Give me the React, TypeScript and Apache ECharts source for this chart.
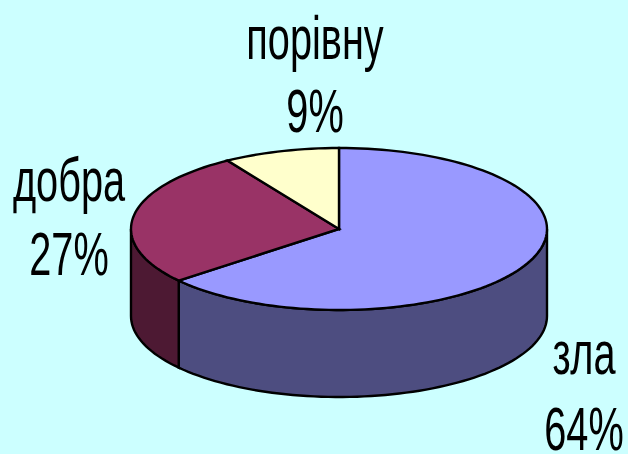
import React, { useEffect, useRef } from "react";
import * as echarts from "echarts";

const categories = ["зла", "добра", "порівну"];
const values = [64, 27, 9];
const topColors = ["#9999FF", "#993366", "#FFFFCC"];
const wallColors = ["#4D4D80", "#4D1933", "#808066"];

const CX = 339, CY = 229, RX = 208, RY = 81, DEPTH = 87;
const labelPos = [
  { x: 584, nameY: 353, pctY: 429 },
  { x: 69, nameY: 180, pctY: 254 },
  { x: 315, nameY: 38, pctY: 111 },
];

const total = values.reduce((a, b) => a + b, 0);
const rad = (d: number) => (d * Math.PI) / 180;
const pt = (deg: number, dy = 0): number[] => [
  CX + RX * Math.sin(rad(deg)),
  CY - RY * Math.cos(rad(deg)) + dy,
];
const arc = (a: number, b: number, dy = 0): number[][] => {
  const n = Math.max(2, Math.ceil(Math.abs(b - a) / 2));
  const out: number[][] = [];
  for (let i = 0; i <= n; i++) out.push(pt(a + ((b - a) * i) / n, dy));
  return out;
};

function renderItem(params: any, api: any) {
  const i = params.dataIndex;
  const before = values.slice(0, i).reduce((a, b) => a + b, 0);
  const a0 = (before / total) * 360;
  const a1 = ((before + api.value(0)) / total) * 360;
  const children: any[] = [];
  const w0 = Math.max(a0, 90), w1 = Math.min(a1, 270);
  if (w1 > w0) {
    children.push({
      type: "polygon",
      shape: { points: [...arc(w0, w1, 0), ...arc(w1, w0, DEPTH)] },
      style: { fill: wallColors[i], stroke: "#000", lineWidth: 2.4 },
    });
  }
  children.push({
    type: "polygon",
    shape: { points: [[CX, CY], ...arc(a0, a1)] },
    style: { fill: topColors[i], stroke: "#000", lineWidth: 2.4 },
  });
  const l = labelPos[i];
  const text = (t: string, y: number) => ({
    type: "text",
    x: l.x,
    y,
    scaleX: 0.64,
    style: {
      text: t,
      fill: "#000",
      font: '62px "Liberation Sans"',
      align: "center",
      verticalAlign: "middle",
    },
  });
  children.push(text(categories[i], l.nameY), text(`${api.value(0)}%`, l.pctY));
  return { type: "group", children };
}

export default function App() {
  const ref = useRef<HTMLDivElement>(null);
  useEffect(() => {
    document.body.style.margin = "0";
    const chart = echarts.init(ref.current!, undefined, { renderer: "svg" });
    chart.setOption({
      animation: false,
      backgroundColor: "#CCFFFF",
      series: [
        {
          type: "custom",
          coordinateSystem: "none",
          renderItem,
          data: values.map((v, i) => ({ name: categories[i], value: [v] })),
        },
      ],
    });
    return () => chart.dispose();
  }, []);
  return <div ref={ref} style={{ width: 628, height: 454 }} />;
}
